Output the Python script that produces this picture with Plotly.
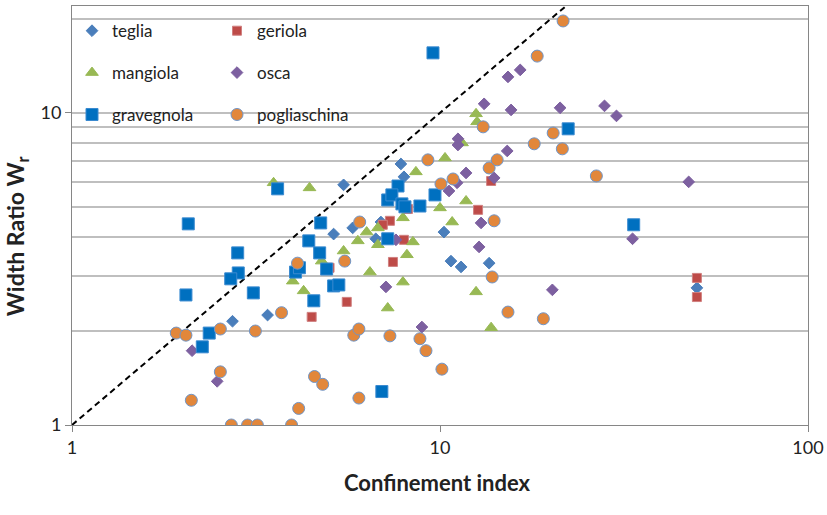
import plotly.graph_objects as go

# ---------------- data ----------------
teglia_x = [5.47, 7.83, 7.98, 5.14, 5.79, 6.69, 6.91, 10.25, 10.71, 11.41, 13.6, 2.73, 3.40, 49.9]
teglia_y = [5.88, 6.86, 6.24, 4.09, 4.28, 3.95, 4.47, 4.15, 3.35, 3.21, 3.30, 2.15, 2.25, 2.75]

geriola_x = [5.01, 5.58, 4.48, 7.31, 6.99, 7.98, 7.45, 8.18, 12.69, 13.77, 49.9, 49.9]
geriola_y = [3.19, 2.48, 2.22, 4.51, 4.38, 3.92, 3.33, 4.92, 4.89, 6.05, 2.96, 2.57]

mangiola_x = [3.53, 4.42, 4.77, 3.98, 4.26, 5.47, 5.98, 6.32, 6.78, 6.78, 6.45, 7.93, 8.13,
              7.93, 7.21, 8.44, 10.0, 10.79, 11.77, 12.53, 13.77, 8.60, 10.32, 12.53, 12.61, 11.48]
mangiola_y = [5.97, 5.75, 3.35, 2.89, 2.69, 3.61, 3.89, 4.15, 4.28, 3.78, 3.09, 4.61, 3.51,
              2.87, 2.37, 3.86, 4.96, 4.47, 5.22, 2.67, 2.05, 6.47, 7.17, 9.93, 9.36, 8.01]

osca_x = [2.12, 2.48, 7.59, 7.13, 8.93, 12.93, 12.77, 20.2, 11.19, 11.19, 13.18, 15.6, 15.3,
          16.52, 21.2, 15.23, 14.03, 11.77, 11.13, 10.58, 27.99, 30.17, 47.4, 33.36]
osca_y = [1.73, 1.38, 3.92, 2.77, 2.06, 4.44, 3.72, 2.71, 8.26, 7.89, 10.69, 10.22, 13.04,
          13.73, 10.38, 7.55, 6.19, 6.42, 5.97, 5.62, 10.53, 9.78, 6.01, 3.95]

gravegnola_x = [2.07, 2.04, 2.82, 2.83, 2.70, 3.11, 2.36, 2.26, 3.62, 4.74, 4.40, 4.71, 4.05,
                4.15, 4.92, 5.14, 5.31, 4.54, 9.57, 7.21, 7.69, 7.40, 7.88, 8.03, 8.82, 9.69,
                7.21, 6.95, 22.3, 33.6]
gravegnola_y = [4.41, 2.61, 3.56, 3.07, 2.94, 2.65, 1.97, 1.78, 5.71, 4.44, 3.89, 3.56, 3.09,
                3.19, 3.16, 2.79, 2.81, 2.50, 15.57, 5.26, 5.83, 5.46, 5.11, 5.00, 5.03, 5.46,
                3.95, 1.28, 8.89, 4.38]

pogliaschina_x = [1.92, 2.04, 2.53, 3.15, 3.71, 4.10, 5.51, 6.05, 2.53, 2.11, 4.56, 4.80, 4.13,
                  2.71, 3.00, 3.19, 3.95, 5.83, 6.02, 6.02, 7.31, 8.82, 9.16, 10.12, 9.27, 10.06,
                  10.85, 13.10, 13.6, 14.30, 18.03, 20.3, 21.5, 18.37, 21.6, 26.6, 14.03, 13.86,
                  15.3, 19.09]
pogliaschina_y = [1.97, 1.94, 2.03, 2.00, 2.29, 3.30, 3.35, 4.47, 1.48, 1.20, 1.43, 1.35, 1.13,
                  1.00, 1.00, 1.00, 1.00, 1.94, 2.03, 1.22, 1.93, 1.89, 1.73, 1.51, 7.07, 5.92,
                  6.14, 9.02, 6.66, 7.07, 7.96, 8.62, 7.67, 15.2, 19.7, 6.28, 4.51, 2.98,
                  2.30, 2.19]

one_to_one = [1, 100]

x_tick_vals = [1, 10, 100]
x_tick_text = ["1", "10", "100"]
y_tick_vals = [1, 10]
y_tick_text = ["1", "10"]
y_minor_vals = [2, 3, 4, 5, 6, 7, 8, 9, 20]

FONT = "Lato"

fig = go.Figure()

fig.add_trace(go.Scatter(x=one_to_one, y=one_to_one, mode="lines", showlegend=False,
                         line=dict(color="black", width=2, dash="6px,4px"), hoverinfo="skip"))

series = [
    ("teglia", teglia_x, teglia_y, "diamond", "#4A7EBB", 9, "#4A7EBB", "legend"),
    ("geriola", geriola_x, geriola_y, "square", "#BE4B48", 9, "#D08080", "legend"),
    ("mangiola", mangiola_x, mangiola_y, "triangle-up", "#98B954", 11, "#98B954", "legend2"),
    ("osca", osca_x, osca_y, "diamond", "#7D60A0", 9, "#7D60A0", "legend2"),
    ("gravegnola", gravegnola_x, gravegnola_y, "square", "#0070C0", 12, "#3A8AD0", "legend3"),
    ("pogliaschina", pogliaschina_x, pogliaschina_y, "circle", "#E2873B", 12, "#6F95C8", "legend3"),
]
for name, xs, ys, sym, col, size, edge, leg in series:
    fig.add_trace(go.Scatter(
        x=xs, y=ys, mode="markers", name=name, legend=leg,
        marker=dict(symbol=sym, color=col, size=size, line=dict(color=edge, width=1)),
    ))

# white box behind the legend (covers gridlines)
fig.add_shape(type="rect", xref="paper", yref="paper", x0=0, x1=0.387, y0=0.692, y1=1,
              fillcolor="white", line=dict(width=0), layer="between")

leg_common = dict(orientation="h", xanchor="left", yanchor="middle", x=0.0,
                  bgcolor="rgba(0,0,0,0)", entrywidth=100, entrywidthmode="pixels",
                  font=dict(family=FONT, size=17, color="#222"))
fig.update_layout(
    legend=dict(y=0.94, **leg_common),
    legend2=dict(y=0.84, **leg_common),
    legend3=dict(y=0.74, **leg_common),
)

fig.update_xaxes(
    type="log", range=[0, 2], automargin=False,
    tickvals=x_tick_vals, ticktext=x_tick_text,
    ticks="outside", ticklen=6, tickcolor="#868686",
    showgrid=False, zeroline=False,
    showline=True, linecolor="#868686", linewidth=1, mirror=True,
    tickfont=dict(family=FONT, size=18, color="#222"),
)
fig.update_yaxes(
    type="log", range=[0, 1.3424], automargin=False,
    tickvals=y_tick_vals, ticktext=y_tick_text,
    ticks="outside", ticklen=6, tickcolor="#868686",
    showgrid=True, gridcolor="#BFBFBF", gridwidth=1.5,
    minor=dict(tickvals=y_minor_vals, showgrid=True, gridcolor="#BFBFBF", gridwidth=1.5, ticks=""),
    zeroline=False,
    showline=True, linecolor="#868686", linewidth=1, mirror=True,
    tickfont=dict(family=FONT, size=18, color="#222"),
)

fig.add_annotation(text="<b>Confinement index</b>", xref="paper", yref="paper",
                   x=0.496, y=-0.138, xanchor="center", yanchor="middle", showarrow=False,
                   font=dict(family=FONT, size=22, color="#222"))
fig.add_annotation(text="<b>Width Ratio W<sub>r</sub></b>", xref="paper", yref="paper",
                   x=-0.075, y=0.45, xanchor="center", yanchor="middle", showarrow=False,
                   textangle=-90, font=dict(family=FONT, size=23, color="#222"))

fig.update_layout(
    width=827, height=515,
    margin=dict(l=72, r=19, t=6, b=90),
    paper_bgcolor="white", plot_bgcolor="white",
)

fig.write_html("out.html", config={"displayModeBar": False},
               post_script="document.body.style.margin='0';")
